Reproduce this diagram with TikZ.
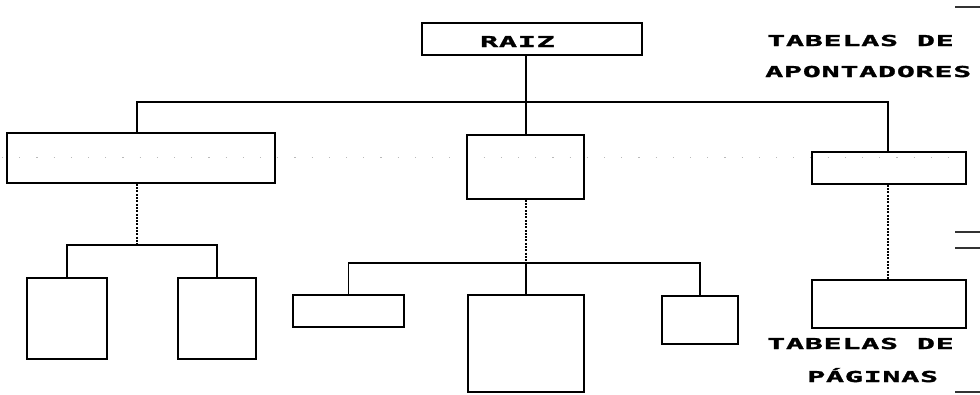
\documentclass[tikz,border=0pt]{standalone}
\usepackage{fontspec}
% wide, blocky monospace lettering
\newfontfamily\pixfont[FakeStretch=2.0,LetterSpace=5,FakeBold=2]{DejaVu Sans Mono}
\begin{document}
\begin{tikzpicture}[x=1pt,y=-1pt,
  box/.style={draw=black, line width=1.7pt, inner sep=0pt},
  caption/.style={font=\pixfont\bfseries\fontsize{15}{18}\selectfont,
    anchor=base west, inner sep=0pt, text=black},
  link/.style={line width=1.7pt, draw=black},
  dotlink/.style={line width=1.8pt, draw=black, dash pattern=on 2pt off 1.3pt},
  guide/.style={draw=gray!55, line width=1pt, dash pattern=on 1.2pt off 16pt},
  edgemark/.style={draw=black!80, line width=1.4pt}]
\useasboundingbox (0,0) rectangle (980,394);

% horizontal guide through the pointer tables
\coordinate (g0) at (2,157);
\coordinate (g1) at (966,157);
\draw[guide] (g0) -- (g1);

% root
\node[box, minimum width=220pt, minimum height=32pt] (raiz) at (532,39) {};
\node[caption] (raiztext) at (480,47) {RAIZ};

% pointer tables
\node[box, minimum width=268pt, minimum height=50pt] (L) at (141,158) {};
\node[box, minimum width=117pt, minimum height=64pt] (M) at (525.5,167) {};
\node[box, minimum width=154pt, minimum height=32pt] (R) at (889,168) {};

% page tables
\node[box, minimum width=80pt,  minimum height=81pt] (p1) at (67,318.5) {};
\node[box, minimum width=78pt,  minimum height=81pt] (p2) at (217,318.5) {};
\node[box, minimum width=111pt, minimum height=32pt] (p3) at (348.5,311) {};
\node[box, minimum width=116pt, minimum height=97pt] (p4) at (526,343.5) {};
\node[box, minimum width=76pt,  minimum height=48pt] (p5) at (700,320) {};
\node[box, minimum width=154pt, minimum height=48pt] (p6) at (889,304) {};

% root to pointer tables
\coordinate (jt) at (526,102);
\coordinate (jl) at (137,102);
\coordinate (jr) at (888,102);
\draw[link] (raiz.south -| jt) -- (jt);
\draw[link] (L.north -| jl) -- (jl) -- (jr) -- (R.north -| jr);
\draw[link] (jt) -- (M.north -| jt);

% left pointer table to its pages
\coordinate (la) at (137,245);
\draw[dotlink] (L.south -| la) -- (la);
\draw[link] (p1.north) |- (la) -| (p2.north);

% middle pointer table to its pages
\coordinate (ma) at (526,263);
\draw[dotlink] (M.south -| ma) -- (ma);
\draw[link] (p3.north) |- (ma) -| (p5.north);
\draw[link] (ma) -- (p4.north -| ma);

% right pointer table to its page
\draw[dotlink] (R.south -| jr) -- (p6.north -| jr);

% captions
\node[caption] (tap1) at (767,46) {TABELAS DE};
\node[caption] (tap2) at (765,77) {APONTADORES};
\node[caption] (tpg1) at (767,349) {TABELAS DE};
\node[caption] (tpg2) at (807,382) {PÁGINAS};

% level marks at the right margin
\coordinate (m1a) at (955,7);   \coordinate (m1b) at (980,7);
\coordinate (m2a) at (955,232); \coordinate (m2b) at (980,232);
\coordinate (m3a) at (955,248); \coordinate (m3b) at (980,248);
\coordinate (m4a) at (955,392); \coordinate (m4b) at (980,392);
\draw[edgemark] (m1a) -- (m1b);
\draw[edgemark] (m2a) -- (m2b);
\draw[edgemark] (m3a) -- (m3b);
\draw[edgemark] (m4a) -- (m4b);
\end{tikzpicture}
\end{document}
